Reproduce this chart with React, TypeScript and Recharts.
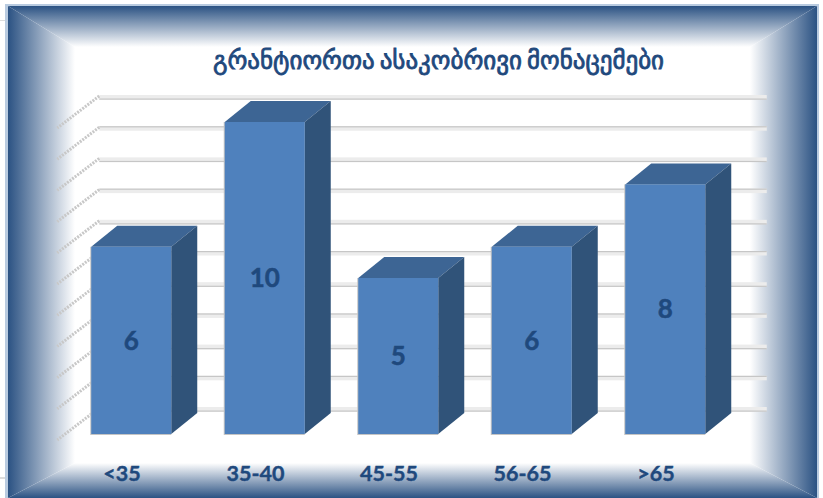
import { BarChart, Bar, XAxis, YAxis, CartesianGrid, LabelList } from "recharts";

const categories = ["<35", "35-40", "45-55", "56-65", ">65"];
const grantees = [6, 10, 5, 6, 8];
const yTicks = [0, 1, 2, 3, 4, 5, 6, 7, 8, 9, 10];
const title = "გრანტიორთა ასაკობრივი მონაცემები";

const data = categories.map((name, i) => ({ name, value: grantees[i] }));

const W = 823;
const H = 498;
const NAVY = "#1f497d";
const DARK = "#2b5283";

// 3d box drawn off the bar rectangle the library hands us
function Box3D(props: any) {
  const { x, y, width, height } = props;
  const dx = 26;
  const dy = 21;
  const r = x + width;
  const b = y + height;
  return (
    <g>
      <rect x={x - 1} y={y} width={width + 1} height={height + 1} fill="#c4c4c4" />
      <polygon points={`${x},${y} ${x + dx},${y - dy} ${r + dx},${y - dy} ${r},${y}`} fill="#3d6594" />
      <polygon points={`${r},${y} ${r + dx},${y - dy} ${r + dx},${b - dy} ${r},${b}`} fill="#305379" />
      <rect x={x} y={y} width={width} height={height} fill="#4f81bd" />
    </g>
  );
}

// back wall line plus the fuzzy side wall tick
function WallLine(props: any) {
  const { x1, x2, y1, index } = props;
  const left = x1 + 35;
  const right = x2 + 35;
  const y = y1 - 27;
  const darkAt = index % 2 === 0 ? y + 3.5 : y;
  return (
    <g>
      <rect x={left} y={y} width={right - left} height={4.5} fill="#ececec" />
      <rect x={left} y={darkAt} width={right - left} height={1.2} fill="#c6c6c6" />
      <line
        x1={left}
        y1={y + 1}
        x2={left - 42}
        y2={y + 33}
        stroke="#c8c8c8"
        strokeWidth={3}
        strokeDasharray="2 1.2"
      />
    </g>
  );
}

function Backdrop() {
  const l = 8;
  const t = 6;
  const r = 817;
  const b = 498;
  const il = 75;
  const it = 47;
  const ir = 750;
  const ib = 463;
  return (
    <svg width={W} height={H} style={{ position: "absolute", left: 0, top: 0 }}>
      <defs>
        <linearGradient id="fadeL" x1="0" y1="0" x2="1" y2="0">
          <stop offset="0" stopColor={DARK} />
          <stop offset="1" stopColor="#ffffff" />
        </linearGradient>
        <linearGradient id="fadeR" x1="1" y1="0" x2="0" y2="0">
          <stop offset="0" stopColor={DARK} />
          <stop offset="1" stopColor="#ffffff" />
        </linearGradient>
        <linearGradient id="fadeT" x1="0" y1="0" x2="0" y2="1">
          <stop offset="0" stopColor={DARK} />
          <stop offset="1" stopColor="#ffffff" />
        </linearGradient>
        <linearGradient id="fadeB" x1="0" y1="1" x2="0" y2="0">
          <stop offset="0" stopColor={DARK} />
          <stop offset="1" stopColor="#ffffff" />
        </linearGradient>
      </defs>
      <rect x={0} y={20} width={5} height={1} fill="#dcdcdc" />
      <rect x={0} y={477} width={5} height={2} fill="#dcdcdc" />
      <rect x={5} y={4} width={814} height={494} fill="#b9cbe0" />
      <rect x={l} y={t} width={r - l} height={b - t} fill="#ffffff" />
      <polygon points={`${l},${t} ${il},${it} ${il},${ib} ${l},${b}`} fill="url(#fadeL)" />
      <polygon points={`${r},${t} ${ir},${it} ${ir},${ib} ${r},${b}`} fill="url(#fadeR)" />
      <polygon points={`${l},${t} ${r},${t} ${ir},${it} ${il},${it}`} fill="url(#fadeT)" />
      <polygon points={`${l},${b} ${r},${b} ${ir},${ib} ${il},${ib}`} fill="url(#fadeB)" />
      <text
        x={438.5}
        y={69}
        textAnchor="middle"
        fontFamily="DejaVu Sans"
        fontSize={25}
        stroke={NAVY}
        strokeWidth={0.8}
        wordSpacing={-3}
        fill={NAVY}
      >
        {title}
      </text>
    </svg>
  );
}

export default function App() {
  return (
    <div style={{ position: "absolute", left: 0, top: 0, width: W, height: H, overflow: "hidden" }}>
      <Backdrop />
      <div style={{ position: "absolute", left: 0, top: 0 }}>
        <BarChart
          width={W}
          height={H}
          data={data}
          margin={{ top: 122, right: 91.25, bottom: 0, left: 64.25 }}
          barCategoryGap={0}
        >
          <CartesianGrid vertical={false} horizontal={(p: any) => <WallLine key={p.index} {...p} />} />
          <XAxis
            dataKey="name"
            axisLine={false}
            tickLine={false}
            height={64}
            dx={-9}
            tickMargin={26}
            tick={{ fill: NAVY, stroke: NAVY, strokeWidth: 0.4, fontFamily: "Lato", fontWeight: "bold", fontSize: 21.5 }}
          />
          <YAxis hide domain={[0, 10]} ticks={yTicks} tickCount={11} width={0} />
          <Bar dataKey="value" barSize={80} shape={Box3D} isAnimationActive={false}>
            <LabelList
              dataKey="value"
              position="center"
              fill={NAVY}
              stroke={NAVY}
              strokeWidth={0.5}
              fontFamily="Lato"
              fontWeight="bold"
              fontSize={26}
            />
          </Bar>
        </BarChart>
      </div>
    </div>
  );
}
